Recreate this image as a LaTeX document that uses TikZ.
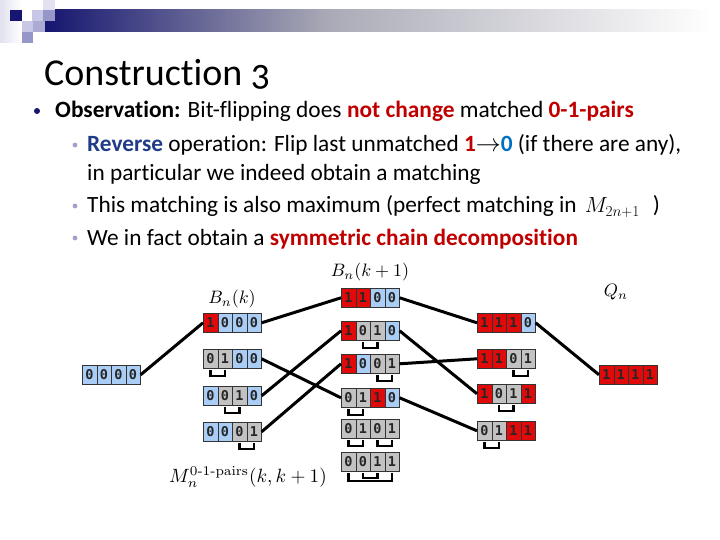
\documentclass[tikz,border=0pt]{standalone}
\usepackage[no-math]{fontspec}
\usepackage{graphicx}
\setmainfont{Carlito}[Ligatures=NoCommon]
\newfontfamily\titlefont{Carlito}[Ligatures=NoCommon,Numbers=OldStyle]
\newfontfamily\cellfont{DejaVu Sans Mono}
\usetikzlibrary{calc}
\definecolor{cred}{RGB}{224,10,10}
\definecolor{cblue}{RGB}{170,205,246}
\definecolor{cgray}{RGB}{194,194,194}
\definecolor{txtred}{RGB}{192,0,0}
\definecolor{txtblue}{RGB}{31,60,136}
\definecolor{numblue}{RGB}{0,112,192}
\definecolor{navy}{RGB}{22,22,112}
\definecolor{sq1}{RGB}{200,200,230}
\definecolor{sq2}{RGB}{150,150,200}
\definecolor{sq3}{RGB}{225,225,240}
\definecolor{bul2}{RGB}{160,160,200}
\tikzset{
  cell/.style={draw=black!80, line width=0.6pt, minimum width=14.5pt, minimum height=19pt,
    inner sep=0pt, font=\cellfont\bfseries\fontsize{13.5}{13.5}\selectfont, text=black!85},
  edge/.style={line width=3pt, black},
  brk/.style={line width=2.6pt, black, line join=miter},
  mlabel/.style={scale=1.8},
  l1text/.style={anchor=base west, inner sep=0pt, font=\fontsize{23.4}{28}\selectfont},
  l2text/.style={anchor=base west, inner sep=0pt, font=\fontsize{23.3}{28}\selectfont},
}
\newcommand\bitrow[4]{%
  \foreach \cc/\dd [count=\ii] in {#4}{%
    \node[cell, fill=\cc, anchor=north west] (#1-\ii) at ({#2+(\ii-1)*14.5},#3) {\dd};
  }%
}
\newcommand\brk[4]{%
  \draw[brk] ($(#1-#2.south)+(0,1.5)$) -- ++(0,#4) -| ($(#1-#3.south)+(0,1.5)$);
}
\begin{document}
\begin{tikzpicture}[x=1pt,y=-1pt]
\useasboundingbox (0,0) rectangle (720,540);
% header decoration
\shade[left color=sq3, right color=white] (0,0) rectangle (22,43);
\shade[left color=navy, right color=black!20!blue!10!gray!60] (45,10) rectangle (330,32);
\shade[left color=black!20!blue!10!gray!60, right color=white] (330,10) rectangle (712,32);
\fill[sq3] (43,0) rectangle (55,10);
\fill[navy] (10,10) rectangle (22,21);
\fill[sq1] (32,10) rectangle (43,21);
\fill[sq2] (43,10) rectangle (55,21);
\fill[sq1] (22,21) rectangle (33,32);
\fill[sq2!80] (33,21) rectangle (45,32);
\fill[sq2] (22,32) rectangle (33,43);
% title and text
\node[anchor=base west, inner sep=0pt, font=\titlefont\fontsize{38}{42}\selectfont] (title) at (44,86) {Construction 3};
\fill[navy] (37,111) circle (3);
\node[l1text] (l1) at (55,118)
  {\textbf{Observation:} Bit-flipping does \textcolor{txtred}{\textbf{not change}} matched \textcolor{txtred}{\textbf{0-1-pairs}}};
\fill[bul2] (75,145) circle (2.4);
\node[l2text] (l2a) at (87,152)
  {\textcolor{txtblue}{\textbf{Reverse}} operation: Flip last unmatched \textcolor{txtred}{\textbf{1}}$\rightarrow$\textcolor{numblue}{\textbf{0}} (if there are any),};
\node[l2text] (l2b) at (87,181)
  {in particular we indeed obtain a matching};
\fill[bul2] (75,206) circle (2.4);
\node[l2text] (l2c) at (87,213)
  {This matching is also maximum (perfect matching in\hspace{8pt}\scalebox{0.88}{$M_{2n+1}$}\hspace{13pt})};
\fill[bul2] (75,238) circle (2.4);
\node[l2text] (l2d) at (87,245)
  {We in fact obtain a \textcolor{txtred}{\textbf{symmetric chain decomposition}}};
% labels
\node[mlabel] (lbk) at (232,299) {$B_n(k)$};
\node[mlabel] (lbk1) at (370,272) {$B_n(k+1)$};
\node[mlabel] (lq) at (616,292) {$Q_n$};
\node[scale=1.92] (lm) at (248,477) {$M_n^{\mathrm{0\mathchar"2D 1\mathchar"2D pairs}}(k,k+1)$};
% bit strings
\bitrow{b0000}{82}{365}{cblue/0,cblue/0,cblue/0,cblue/0}
\bitrow{b1000}{203}{313}{cred/1,cblue/0,cblue/0,cblue/0}
\bitrow{b0100}{203}{349}{cgray/0,cgray/1,cblue/0,cblue/0}
\bitrow{b0010}{203}{386}{cblue/0,cgray/0,cgray/1,cblue/0}
\bitrow{b0001}{203}{422}{cblue/0,cblue/0,cgray/0,cgray/1}
\bitrow{b1100}{341}{288}{cred/1,cred/1,cblue/0,cblue/0}
\bitrow{b1010}{341}{321}{cred/1,cgray/0,cgray/1,cblue/0}
\bitrow{b1001}{341}{354}{cred/1,cblue/0,cgray/0,cgray/1}
\bitrow{b0110}{341}{388}{cgray/0,cgray/1,cred/1,cblue/0}
\bitrow{b0101}{341}{419}{cgray/0,cgray/1,cgray/0,cgray/1}
\bitrow{b0011}{341}{452}{cgray/0,cgray/0,cgray/1,cgray/1}
\bitrow{b1110}{477}{313}{cred/1,cred/1,cred/1,cblue/0}
\bitrow{b1101}{477}{349}{cred/1,cred/1,cgray/0,cgray/1}
\bitrow{b1011}{477}{384}{cred/1,cgray/0,cgray/1,cred/1}
\bitrow{b0111}{477}{421}{cgray/0,cgray/1,cred/1,cred/1}
\bitrow{b1111}{599}{365}{cred/1,cred/1,cred/1,cred/1}
% brackets
\brk{b0100}{1}{2}{6}
\brk{b0010}{2}{3}{6}
\brk{b0001}{3}{4}{6}
\brk{b1010}{2}{3}{6}
\brk{b1001}{3}{4}{6}
\brk{b0110}{1}{2}{6}
\brk{b0101}{1}{2}{6}
\brk{b0101}{3}{4}{6}
\brk{b0011}{2}{3}{5}
\brk{b0011}{1}{4}{8}
\brk{b1101}{3}{4}{6}
\brk{b1011}{2}{3}{6}
\brk{b0111}{1}{2}{6}
% edges
\draw[edge] (b0000-4.east) -- (b1000-1.west);
\draw[edge] (b1000-4.east) -- (b1100-1.west);
\draw[edge] (b0100-4.east) -- (b0110-1.west);
\draw[edge] (b0010-4.east) -- (b1010-1.west);
\draw[edge] (b0001-4.east) -- (b1001-1.west);
\draw[edge] (b1100-4.east) -- (b1110-1.west);
\draw[edge] (b1010-4.east) -- (b1011-1.west);
\draw[edge] (b1001-4.east) -- (b1101-1.west);
\draw[edge] (b0110-4.east) -- (b0111-1.west);
\draw[edge] (b1110-4.east) -- (b1111-1.west);
\end{tikzpicture}
\end{document}
